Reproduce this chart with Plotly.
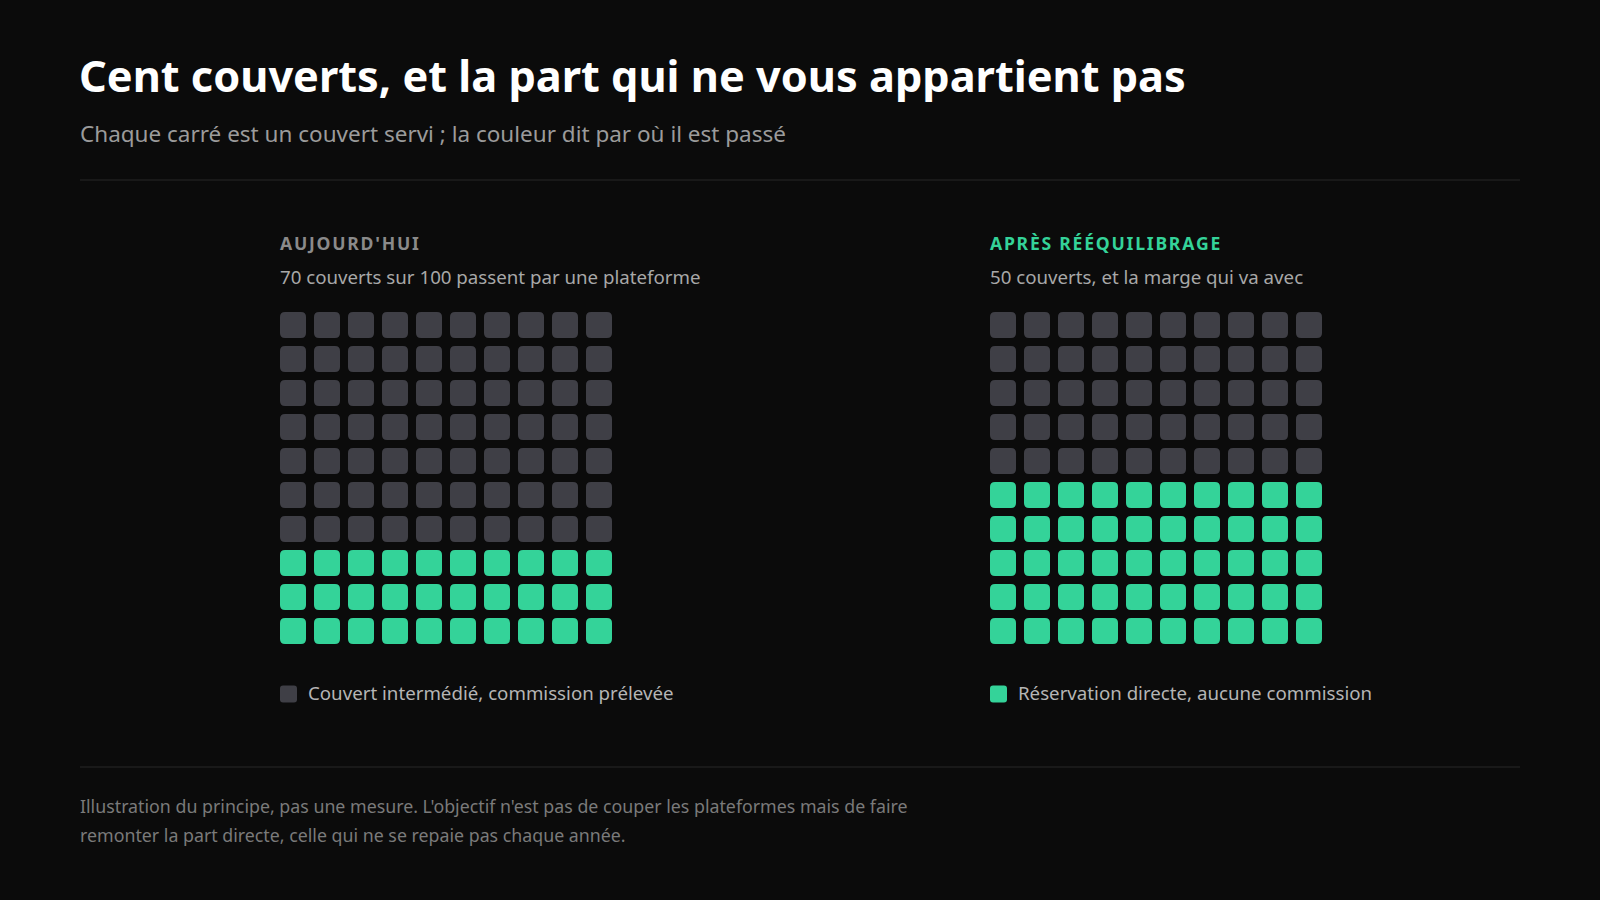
import plotly.graph_objects as go

# ---------------- data ----------------
panel_titles = ["AUJOURD'HUI", "APRÈS RÉÉQUILIBRAGE"]
panel_subtitles = ["70 couverts sur 100 passent par une plateforme",
                   "50 couverts, et la marge qui va avec"]
intermediated = [70, 50]          # couverts via plateforme
direct = [30, 50]                 # réservations directes
legend_labels = ["Couvert intermédié, commission prélevée",
                 "Réservation directe, aucune commission"]
title_text = "Cent couverts, et la part qui ne vous appartient pas"
subtitle_text = "Chaque carré est un couvert servi ; la couleur dit par où il est passé"
footnote_lines = ["Illustration du principe, pas une mesure. L'objectif n'est pas de couper les plateformes mais de faire",
                  "remonter la part directe, celle qui ne se repaie pas chaque année."]
grid_cols = 10
grid_rows = 10

# ---------------- style ----------------
W, H = 1600, 900
BG = "#0b0b0b"
DARK = "#3f3f46"
GREEN = "#34d399"
FONT = "Noto Sans"

CELL_PX = 26
PITCH_PX = 34
RADIUS_PX = 5
grid_left_px = [280, 990]
grid_top_px = 312

cell_u = CELL_PX / PITCH_PX
rad_u = RADIUS_PX / PITCH_PX
span_u = (grid_cols - 1) + cell_u
span_px = span_u * PITCH_PX


def px(x):
    return x / W


def py(y):
    return 1 - y / H


def rounded_path(x0, y0, x1, y1, rx, ry):
    return (f"M {x0+rx},{y0} L {x1-rx},{y0} Q {x1},{y0} {x1},{y0+ry} "
            f"L {x1},{y1-ry} Q {x1},{y1} {x1-rx},{y1} L {x0+rx},{y1} "
            f"Q {x0},{y1} {x0},{y1-ry} L {x0},{y0+ry} Q {x0},{y0} {x0+rx},{y0} Z")


fig = go.Figure()
shapes = []
annotations = []

for p in range(2):
    xa = "x" if p == 0 else "x2"
    ya = "y" if p == 0 else "y2"
    xs, ys, texts = [], [], []
    total = intermediated[p] + direct[p]
    for k in range(total):
        r, c = divmod(k, grid_cols)
        color = DARK if k < intermediated[p] else GREEN
        shapes.append(dict(type="path", xref=xa, yref=ya,
                           path=rounded_path(c, r, c + cell_u, r + cell_u, rad_u, rad_u),
                           fillcolor=color, line=dict(width=0), layer="above"))
        xs.append(c + cell_u / 2)
        ys.append(r + cell_u / 2)
        texts.append(legend_labels[0] if k < intermediated[p] else legend_labels[1])
    fig.add_trace(go.Scatter(x=xs, y=ys, mode="markers", xaxis=xa, yaxis=ya,
                             marker=dict(size=CELL_PX, opacity=0, symbol="square"),
                             text=texts, hoverinfo="text", showlegend=False))

    gl = grid_left_px[p]
    # panel header (letter-spaced)
    spaced = "\u200a".join(list(panel_titles[p]))
    annotations.append(dict(text=f"<b>{spaced}</b>", x=px(gl - 2), y=py(243),
                            xref="paper", yref="paper", xanchor="left", yanchor="middle",
                            showarrow=False,
                            font=dict(family=FONT, size=17.6,
                                      color="#8a8a8a" if p == 0 else GREEN)))
    annotations.append(dict(text=panel_subtitles[p], x=px(gl - 2), y=py(277),
                            xref="paper", yref="paper", xanchor="left", yanchor="middle",
                            showarrow=False, font=dict(family=FONT, size=18.7, color="#a8a8a8")))
    # legend swatch + label
    sq = 17
    lc = DARK if p == 0 else GREEN
    x0, x1 = px(gl), px(gl + sq)
    y0, y1 = py(694 - sq / 2), py(694 + sq / 2)
    shapes.append(dict(type="path", xref="paper", yref="paper",
                       path=rounded_path(x0, y1, x1, y0, 3 / W, 3 / H),
                       fillcolor=lc, line=dict(width=0)))
    annotations.append(dict(text=legend_labels[p], x=px(gl + 26), y=py(692),
                            xref="paper", yref="paper", xanchor="left", yanchor="middle",
                            showarrow=False, font=dict(family=FONT, size=18.7, color="#b5b5b5")))

# title / subtitle
annotations.append(dict(text=f"<b>{title_text}</b>",
                        x=px(77), y=py(76), xref="paper", yref="paper",
                        xanchor="left", yanchor="middle", showarrow=False,
                        font=dict(family=FONT, size=43.3, color="#ffffff")))
annotations.append(dict(text=subtitle_text,
                        x=px(77.5), y=py(133), xref="paper", yref="paper",
                        xanchor="left", yanchor="middle", showarrow=False,
                        font=dict(family=FONT, size=22.5, color="#9b9b9b")))
# footnote
for i, line in enumerate(footnote_lines):
    annotations.append(dict(text=line, x=px(77.5), y=py(806 + 28.5 * i), xref="paper", yref="paper",
                            xanchor="left", yanchor="middle", align="left", showarrow=False,
                            font=dict(family=FONT, size=17.8, color="#7a7a7a")))

# dividers
for yy in (180, 767):
    shapes.append(dict(type="line", xref="paper", yref="paper",
                       x0=px(80), x1=px(1520), y0=py(yy), y1=py(yy),
                       line=dict(color="#1f1f1f", width=1.5)))

axis_common = dict(showgrid=False, zeroline=False, showticklabels=False,
                   ticks="", showline=False, fixedrange=True)
ydom = [py(grid_top_px + span_px), py(grid_top_px)]
fig.update_layout(
    width=W, height=H,
    paper_bgcolor=BG, plot_bgcolor=BG,
    margin=dict(l=0, r=0, t=0, b=0),
    showlegend=False,
    xaxis=dict(domain=[px(grid_left_px[0]), px(grid_left_px[0] + span_px)],
               range=[0, span_u], anchor="y", **axis_common),
    yaxis=dict(domain=ydom, range=[span_u, 0], anchor="x", **axis_common),
    xaxis2=dict(domain=[px(grid_left_px[1]), px(grid_left_px[1] + span_px)],
                range=[0, span_u], anchor="y2", **axis_common),
    yaxis2=dict(domain=ydom, range=[span_u, 0], anchor="x2", **axis_common),
    shapes=shapes,
    annotations=annotations,
    hoverlabel=dict(font=dict(family=FONT)),
)

fig.write_html("out.html",
               config={"displayModeBar": False},
               post_script="document.body.style.margin='0';"
                           "document.body.style.background='#0b0b0b';"
                           "document.body.style.overflow='hidden';")
